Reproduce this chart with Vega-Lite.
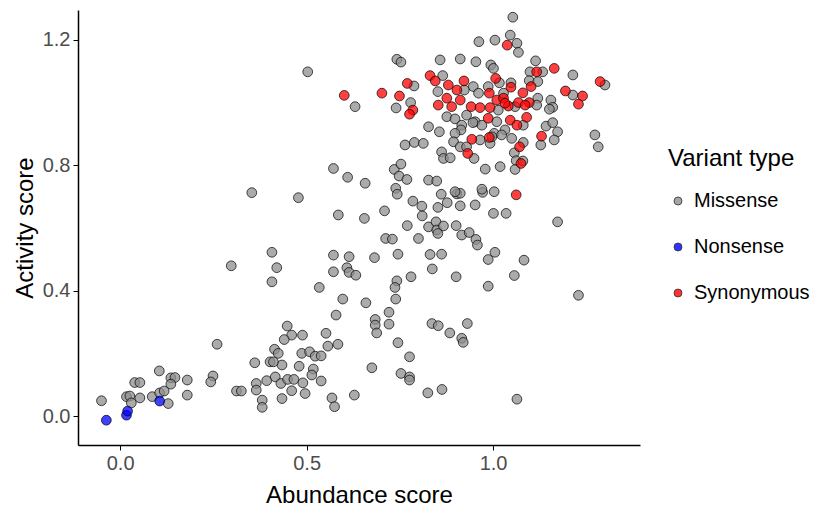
{
  "$schema": "https://vega.github.io/schema/vega-lite/v6.json",
  "width": 562,
  "height": 435,
  "autosize": {"type": "none"},
  "padding": {"left": 78, "top": 10, "right": 174, "bottom": 65},
  "background": "white",
  "config": {"view": {"stroke": null}, "font": "Liberation Sans"},
  "data": {"values": [
    {"x": -0.050, "y": 0.049, "t": "Missense"}, {"x": 0.039, "y": 0.107, "t": "Missense"}, {"x": 0.053, "y": 0.107, "t": "Missense"},
    {"x": 0.017, "y": 0.062, "t": "Missense"}, {"x": 0.026, "y": 0.064, "t": "Missense"}, {"x": 0.030, "y": 0.042, "t": "Missense"},
    {"x": 0.053, "y": 0.058, "t": "Missense"}, {"x": 0.086, "y": 0.062, "t": "Missense"}, {"x": 0.106, "y": 0.074, "t": "Missense"},
    {"x": 0.118, "y": 0.080, "t": "Missense"}, {"x": 0.129, "y": 0.040, "t": "Missense"}, {"x": 0.105, "y": 0.144, "t": "Missense"},
    {"x": 0.136, "y": 0.122, "t": "Missense"}, {"x": 0.147, "y": 0.123, "t": "Missense"}, {"x": 0.136, "y": 0.102, "t": "Missense"},
    {"x": 0.180, "y": 0.115, "t": "Missense"}, {"x": 0.180, "y": 0.067, "t": "Missense"}, {"x": 0.260, "y": 0.229, "t": "Missense"},
    {"x": 0.249, "y": 0.128, "t": "Missense"}, {"x": 0.243, "y": 0.109, "t": "Missense"}, {"x": 0.312, "y": 0.080, "t": "Missense"},
    {"x": 0.325, "y": 0.080, "t": "Missense"}, {"x": 0.361, "y": 0.170, "t": "Missense"}, {"x": 0.365, "y": 0.104, "t": "Missense"},
    {"x": 0.365, "y": 0.083, "t": "Missense"}, {"x": 0.381, "y": 0.051, "t": "Missense"}, {"x": 0.381, "y": 0.028, "t": "Missense"},
    {"x": 0.393, "y": 0.113, "t": "Missense"}, {"x": 0.416, "y": 0.125, "t": "Missense"}, {"x": 0.434, "y": 0.163, "t": "Missense"},
    {"x": 0.431, "y": 0.104, "t": "Missense"}, {"x": 0.449, "y": 0.117, "t": "Missense"}, {"x": 0.466, "y": 0.117, "t": "Missense"},
    {"x": 0.460, "y": 0.081, "t": "Missense"}, {"x": 0.434, "y": 0.056, "t": "Missense"}, {"x": 0.448, "y": 0.287, "t": "Missense"},
    {"x": 0.460, "y": 0.258, "t": "Missense"}, {"x": 0.440, "y": 0.244, "t": "Missense"}, {"x": 0.489, "y": 0.258, "t": "Missense"},
    {"x": 0.414, "y": 0.213, "t": "Missense"}, {"x": 0.424, "y": 0.200, "t": "Missense"}, {"x": 0.402, "y": 0.173, "t": "Missense"},
    {"x": 0.411, "y": 0.173, "t": "Missense"}, {"x": 0.480, "y": 0.159, "t": "Missense"}, {"x": 0.487, "y": 0.200, "t": "Missense"},
    {"x": 0.508, "y": 0.205, "t": "Missense"}, {"x": 0.523, "y": 0.191, "t": "Missense"}, {"x": 0.539, "y": 0.192, "t": "Missense"},
    {"x": 0.490, "y": 0.106, "t": "Missense"}, {"x": 0.496, "y": 0.072, "t": "Missense"}, {"x": 0.518, "y": 0.150, "t": "Missense"},
    {"x": 0.514, "y": 0.131, "t": "Missense"}, {"x": 0.539, "y": 0.112, "t": "Missense"}, {"x": 0.552, "y": 0.264, "t": "Missense"},
    {"x": 0.557, "y": 0.223, "t": "Missense"}, {"x": 0.584, "y": 0.229, "t": "Missense"}, {"x": 0.579, "y": 0.322, "t": "Missense"},
    {"x": 0.659, "y": 0.361, "t": "Missense"}, {"x": 0.568, "y": 0.058, "t": "Missense"}, {"x": 0.575, "y": 0.030, "t": "Missense"},
    {"x": 0.628, "y": 0.067, "t": "Missense"}, {"x": 0.675, "y": 0.154, "t": "Missense"}, {"x": 0.684, "y": 0.308, "t": "Missense"},
    {"x": 0.684, "y": 0.290, "t": "Missense"}, {"x": 0.688, "y": 0.265, "t": "Missense"}, {"x": 0.353, "y": 0.712, "t": "Missense"},
    {"x": 0.478, "y": 0.696, "t": "Missense"}, {"x": 0.572, "y": 0.789, "t": "Missense"}, {"x": 0.610, "y": 0.761, "t": "Missense"},
    {"x": 0.657, "y": 0.742, "t": "Missense"}, {"x": 0.735, "y": 0.786, "t": "Missense"}, {"x": 0.753, "y": 0.803, "t": "Missense"},
    {"x": 0.748, "y": 0.765, "t": "Missense"}, {"x": 0.769, "y": 0.754, "t": "Missense"}, {"x": 0.739, "y": 0.726, "t": "Missense"},
    {"x": 0.743, "y": 0.707, "t": "Missense"}, {"x": 0.785, "y": 0.685, "t": "Missense"}, {"x": 0.585, "y": 0.641, "t": "Missense"},
    {"x": 0.655, "y": 0.630, "t": "Missense"}, {"x": 0.709, "y": 0.654, "t": "Missense"}, {"x": 0.770, "y": 0.607, "t": "Missense"},
    {"x": 0.712, "y": 0.566, "t": "Missense"}, {"x": 0.730, "y": 0.564, "t": "Missense"}, {"x": 0.800, "y": 0.566, "t": "Missense"},
    {"x": 0.407, "y": 0.522, "t": "Missense"}, {"x": 0.420, "y": 0.473, "t": "Missense"}, {"x": 0.407, "y": 0.428, "t": "Missense"},
    {"x": 0.298, "y": 0.479, "t": "Missense"}, {"x": 0.572, "y": 0.513, "t": "Missense"}, {"x": 0.614, "y": 0.508, "t": "Missense"},
    {"x": 0.682, "y": 0.505, "t": "Missense"}, {"x": 0.745, "y": 0.516, "t": "Missense"}, {"x": 0.572, "y": 0.460, "t": "Missense"},
    {"x": 0.608, "y": 0.473, "t": "Missense"}, {"x": 0.614, "y": 0.458, "t": "Missense"}, {"x": 0.632, "y": 0.449, "t": "Missense"},
    {"x": 0.534, "y": 0.410, "t": "Missense"}, {"x": 0.742, "y": 0.431, "t": "Missense"}, {"x": 0.737, "y": 0.410, "t": "Missense"},
    {"x": 0.780, "y": 0.444, "t": "Missense"}, {"x": 0.597, "y": 0.373, "t": "Missense"}, {"x": 0.739, "y": 0.373, "t": "Missense"},
    {"x": 0.721, "y": 0.331, "t": "Missense"}, {"x": 0.721, "y": 0.293, "t": "Missense"}, {"x": 0.809, "y": 0.669, "t": "Missense"},
    {"x": 0.810, "y": 0.638, "t": "Missense"}, {"x": 0.861, "y": 0.707, "t": "Missense"}, {"x": 0.877, "y": 0.680, "t": "Missense"},
    {"x": 0.852, "y": 0.665, "t": "Missense"}, {"x": 0.903, "y": 0.708, "t": "Missense"}, {"x": 0.912, "y": 0.710, "t": "Missense"},
    {"x": 0.912, "y": 0.670, "t": "Missense"}, {"x": 0.952, "y": 0.673, "t": "Missense"}, {"x": 0.972, "y": 0.713, "t": "Missense"},
    {"x": 1.003, "y": 0.715, "t": "Missense"}, {"x": 1.001, "y": 0.646, "t": "Missense"}, {"x": 1.035, "y": 0.646, "t": "Missense"},
    {"x": 0.827, "y": 0.603, "t": "Missense"}, {"x": 0.847, "y": 0.619, "t": "Missense"}, {"x": 0.849, "y": 0.593, "t": "Missense"},
    {"x": 0.852, "y": 0.582, "t": "Missense"}, {"x": 0.867, "y": 0.606, "t": "Missense"}, {"x": 0.901, "y": 0.607, "t": "Missense"},
    {"x": 0.916, "y": 0.577, "t": "Missense"}, {"x": 0.936, "y": 0.585, "t": "Missense"}, {"x": 0.954, "y": 0.563, "t": "Missense"},
    {"x": 0.958, "y": 0.545, "t": "Missense"}, {"x": 0.831, "y": 0.515, "t": "Missense"}, {"x": 0.862, "y": 0.516, "t": "Missense"},
    {"x": 0.837, "y": 0.469, "t": "Missense"}, {"x": 0.901, "y": 0.444, "t": "Missense"}, {"x": 1.005, "y": 0.522, "t": "Missense"},
    {"x": 0.987, "y": 0.499, "t": "Missense"}, {"x": 1.083, "y": 0.497, "t": "Missense"}, {"x": 1.057, "y": 0.448, "t": "Missense"},
    {"x": 0.987, "y": 0.414, "t": "Missense"}, {"x": 0.836, "y": 0.295, "t": "Missense"}, {"x": 0.853, "y": 0.288, "t": "Missense"},
    {"x": 0.884, "y": 0.265, "t": "Missense"}, {"x": 0.931, "y": 0.295, "t": "Missense"}, {"x": 0.916, "y": 0.248, "t": "Missense"},
    {"x": 0.920, "y": 0.235, "t": "Missense"}, {"x": 0.745, "y": 0.234, "t": "Missense"}, {"x": 0.776, "y": 0.189, "t": "Missense"},
    {"x": 0.753, "y": 0.136, "t": "Missense"}, {"x": 0.776, "y": 0.125, "t": "Missense"}, {"x": 0.776, "y": 0.115, "t": "Missense"},
    {"x": 0.825, "y": 0.074, "t": "Missense"}, {"x": 0.863, "y": 0.085, "t": "Missense"}, {"x": 1.064, "y": 0.054, "t": "Missense"},
    {"x": 1.173, "y": 0.619, "t": "Missense"}, {"x": 1.229, "y": 0.385, "t": "Missense"}, {"x": 0.503, "y": 1.097, "t": "Missense"},
    {"x": 0.630, "y": 0.986, "t": "Missense"}, {"x": 0.742, "y": 1.137, "t": "Missense"}, {"x": 0.753, "y": 1.128, "t": "Missense"},
    {"x": 0.788, "y": 1.052, "t": "Missense"}, {"x": 0.779, "y": 0.999, "t": "Missense"}, {"x": 0.740, "y": 0.982, "t": "Missense"},
    {"x": 0.764, "y": 0.864, "t": "Missense"}, {"x": 0.789, "y": 0.872, "t": "Missense"}, {"x": 0.962, "y": 1.193, "t": "Missense"},
    {"x": 1.005, "y": 1.198, "t": "Missense"}, {"x": 0.858, "y": 1.135, "t": "Missense"}, {"x": 0.912, "y": 1.138, "t": "Missense"},
    {"x": 0.954, "y": 1.129, "t": "Missense"}, {"x": 0.994, "y": 1.119, "t": "Missense"}, {"x": 1.001, "y": 1.108, "t": "Missense"},
    {"x": 0.865, "y": 1.085, "t": "Missense"}, {"x": 0.947, "y": 1.050, "t": "Missense"}, {"x": 0.987, "y": 1.050, "t": "Missense"},
    {"x": 0.852, "y": 1.034, "t": "Missense"}, {"x": 0.923, "y": 1.039, "t": "Missense"}, {"x": 0.961, "y": 1.029, "t": "Missense"},
    {"x": 1.053, "y": 1.271, "t": "Missense"}, {"x": 1.046, "y": 1.214, "t": "Missense"}, {"x": 1.064, "y": 1.188, "t": "Missense"},
    {"x": 1.068, "y": 1.159, "t": "Missense"}, {"x": 1.114, "y": 1.132, "t": "Missense"}, {"x": 1.017, "y": 1.062, "t": "Missense"},
    {"x": 1.099, "y": 1.097, "t": "Missense"}, {"x": 1.133, "y": 1.097, "t": "Missense"}, {"x": 1.214, "y": 1.087, "t": "Missense"},
    {"x": 1.097, "y": 1.069, "t": "Missense"}, {"x": 1.120, "y": 1.066, "t": "Missense"}, {"x": 1.048, "y": 1.062, "t": "Missense"},
    {"x": 1.028, "y": 1.029, "t": "Missense"}, {"x": 1.214, "y": 1.023, "t": "Missense"}, {"x": 1.300, "y": 1.055, "t": "Missense"},
    {"x": 1.120, "y": 1.013, "t": "Missense"}, {"x": 1.155, "y": 1.007, "t": "Missense"}, {"x": 1.160, "y": 0.984, "t": "Missense"},
    {"x": 1.059, "y": 0.986, "t": "Missense"}, {"x": 0.876, "y": 0.954, "t": "Missense"}, {"x": 0.898, "y": 0.947, "t": "Missense"},
    {"x": 0.929, "y": 0.959, "t": "Missense"}, {"x": 0.952, "y": 0.938, "t": "Missense"}, {"x": 0.970, "y": 0.927, "t": "Missense"},
    {"x": 0.827, "y": 0.922, "t": "Missense"}, {"x": 0.856, "y": 0.906, "t": "Missense"}, {"x": 0.916, "y": 0.927, "t": "Missense"},
    {"x": 0.914, "y": 0.912, "t": "Missense"}, {"x": 0.898, "y": 0.901, "t": "Missense"}, {"x": 0.946, "y": 0.935, "t": "Missense"},
    {"x": 0.894, "y": 0.874, "t": "Missense"}, {"x": 0.912, "y": 0.858, "t": "Missense"}, {"x": 0.965, "y": 0.880, "t": "Missense"},
    {"x": 1.003, "y": 0.901, "t": "Missense"}, {"x": 0.813, "y": 0.869, "t": "Missense"}, {"x": 0.862, "y": 0.842, "t": "Missense"},
    {"x": 0.867, "y": 0.821, "t": "Missense"}, {"x": 0.885, "y": 0.823, "t": "Missense"}, {"x": 0.949, "y": 0.821, "t": "Missense"},
    {"x": 0.929, "y": 0.858, "t": "Missense"}, {"x": 0.992, "y": 0.869, "t": "Missense"}, {"x": 0.979, "y": 0.787, "t": "Missense"},
    {"x": 0.827, "y": 0.752, "t": "Missense"}, {"x": 0.849, "y": 0.749, "t": "Missense"}, {"x": 0.898, "y": 0.715, "t": "Missense"},
    {"x": 0.970, "y": 0.723, "t": "Missense"}, {"x": 1.014, "y": 0.975, "t": "Missense"}, {"x": 1.117, "y": 0.991, "t": "Missense"},
    {"x": 1.151, "y": 0.978, "t": "Missense"}, {"x": 1.010, "y": 0.938, "t": "Missense"}, {"x": 1.081, "y": 0.927, "t": "Missense"},
    {"x": 0.997, "y": 0.890, "t": "Missense"}, {"x": 1.032, "y": 0.912, "t": "Missense"}, {"x": 1.023, "y": 0.896, "t": "Missense"},
    {"x": 1.050, "y": 0.885, "t": "Missense"}, {"x": 1.142, "y": 0.924, "t": "Missense"}, {"x": 1.160, "y": 0.935, "t": "Missense"},
    {"x": 1.173, "y": 0.906, "t": "Missense"}, {"x": 1.164, "y": 0.880, "t": "Missense"}, {"x": 1.128, "y": 0.864, "t": "Missense"},
    {"x": 1.273, "y": 0.896, "t": "Missense"}, {"x": 1.282, "y": 0.858, "t": "Missense"}, {"x": 1.081, "y": 0.872, "t": "Missense"},
    {"x": 1.057, "y": 0.839, "t": "Missense"}, {"x": 1.062, "y": 0.814, "t": "Missense"}, {"x": 1.080, "y": 0.813, "t": "Missense"},
    {"x": 1.019, "y": 0.795, "t": "Missense"}, {"x": 1.059, "y": 0.786, "t": "Missense"},
    {"x": -0.037, "y": -0.013, "t": "Nonsense"}, {"x": 0.017, "y": 0.003, "t": "Nonsense"}, {"x": 0.020, "y": 0.016, "t": "Nonsense"},
    {"x": 0.106, "y": 0.048, "t": "Nonsense"},
    {"x": 1.062, "y": 0.705, "t": "Synonymous"}, {"x": 0.601, "y": 1.022, "t": "Synonymous"}, {"x": 0.702, "y": 1.029, "t": "Synonymous"},
    {"x": 0.749, "y": 1.020, "t": "Synonymous"}, {"x": 0.770, "y": 1.060, "t": "Synonymous"}, {"x": 0.785, "y": 0.975, "t": "Synonymous"},
    {"x": 0.776, "y": 0.962, "t": "Synonymous"}, {"x": 0.831, "y": 1.085, "t": "Synonymous"}, {"x": 0.845, "y": 1.068, "t": "Synonymous"},
    {"x": 0.880, "y": 1.055, "t": "Synonymous"}, {"x": 0.922, "y": 1.068, "t": "Synonymous"}, {"x": 1.007, "y": 1.076, "t": "Synonymous"},
    {"x": 0.903, "y": 1.039, "t": "Synonymous"}, {"x": 0.990, "y": 1.029, "t": "Synonymous"}, {"x": 0.876, "y": 1.013, "t": "Synonymous"},
    {"x": 0.912, "y": 1.007, "t": "Synonymous"}, {"x": 0.889, "y": 0.986, "t": "Synonymous"}, {"x": 0.853, "y": 0.991, "t": "Synonymous"},
    {"x": 0.941, "y": 0.986, "t": "Synonymous"}, {"x": 0.965, "y": 0.983, "t": "Synonymous"}, {"x": 0.992, "y": 0.983, "t": "Synonymous"},
    {"x": 1.010, "y": 1.007, "t": "Synonymous"}, {"x": 1.038, "y": 1.182, "t": "Synonymous"}, {"x": 1.117, "y": 1.097, "t": "Synonymous"},
    {"x": 1.164, "y": 1.108, "t": "Synonymous"}, {"x": 1.048, "y": 1.048, "t": "Synonymous"}, {"x": 1.102, "y": 1.050, "t": "Synonymous"},
    {"x": 1.080, "y": 1.030, "t": "Synonymous"}, {"x": 1.194, "y": 1.036, "t": "Synonymous"}, {"x": 1.240, "y": 1.020, "t": "Synonymous"},
    {"x": 1.229, "y": 0.994, "t": "Synonymous"}, {"x": 1.287, "y": 1.066, "t": "Synonymous"}, {"x": 1.028, "y": 1.013, "t": "Synonymous"},
    {"x": 1.068, "y": 0.999, "t": "Synonymous"}, {"x": 1.097, "y": 0.999, "t": "Synonymous"}, {"x": 1.041, "y": 0.988, "t": "Synonymous"},
    {"x": 0.987, "y": 0.949, "t": "Synonymous"}, {"x": 0.943, "y": 0.882, "t": "Synonymous"}, {"x": 0.990, "y": 0.888, "t": "Synonymous"},
    {"x": 0.932, "y": 0.837, "t": "Synonymous"}, {"x": 1.032, "y": 0.997, "t": "Synonymous"}, {"x": 1.086, "y": 0.991, "t": "Synonymous"},
    {"x": 1.046, "y": 0.943, "t": "Synonymous"}, {"x": 1.064, "y": 0.927, "t": "Synonymous"}, {"x": 1.090, "y": 0.952, "t": "Synonymous"},
    {"x": 1.130, "y": 0.892, "t": "Synonymous"}, {"x": 1.071, "y": 0.858, "t": "Synonymous"}, {"x": 1.075, "y": 0.805, "t": "Synonymous"}
  ]},
  "mark": {"type": "point", "shape": "circle", "filled": true, "size": 95, "fillOpacity": 0.75, "stroke": "black", "strokeOpacity": 0.7, "strokeWidth": 1},
  "encoding": {
    "x": {"field": "x", "type": "quantitative",
      "scale": {"domain": [-0.113, 1.394], "nice": false, "zero": false},
      "axis": {"title": "Abundance score", "values": [0, 0.5, 1], "format": ".1f", "grid": false,
        "domainColor": "black", "domainWidth": 1.5, "tickColor": "black", "tickSize": 5, "tickWidth": 1,
        "labelFontSize": 20, "labelColor": "#4d4d4d", "labelPadding": 3,
        "titleFontSize": 24, "titleFontWeight": "normal", "titleColor": "black", "titlePadding": 10}},
    "y": {"field": "y", "type": "quantitative",
      "scale": {"domain": [-0.092, 1.294], "nice": false, "zero": false},
      "axis": {"title": "Activity score", "values": [0, 0.4, 0.8, 1.2], "format": ".1f", "grid": false,
        "domainColor": "black", "domainWidth": 1.5, "tickColor": "black", "tickSize": 5, "tickWidth": 1,
        "labelFontSize": 20, "labelColor": "#4d4d4d", "labelPadding": 3,
        "titleFontSize": 24, "titleFontWeight": "normal", "titleColor": "black", "titlePadding": 5}},
    "fill": {"field": "t", "type": "nominal",
      "scale": {"domain": ["Missense", "Nonsense", "Synonymous"], "range": ["#8f8f8f", "#0000ff", "#ff0000"]},
      "legend": {"title": "Variant type", "orient": "none", "legendX": 590, "legendY": 137,
        "titleFontSize": 24, "titleFontWeight": "normal", "titleColor": "black", "titlePadding": 20,
        "labelFontSize": 20, "labelColor": "black", "labelOffset": 6,
        "symbolSize": 64, "symbolStrokeColor": "black", "symbolStrokeWidth": 0.8, "symbolOpacity": 0.8, "rowPadding": 26}}
  }
}
